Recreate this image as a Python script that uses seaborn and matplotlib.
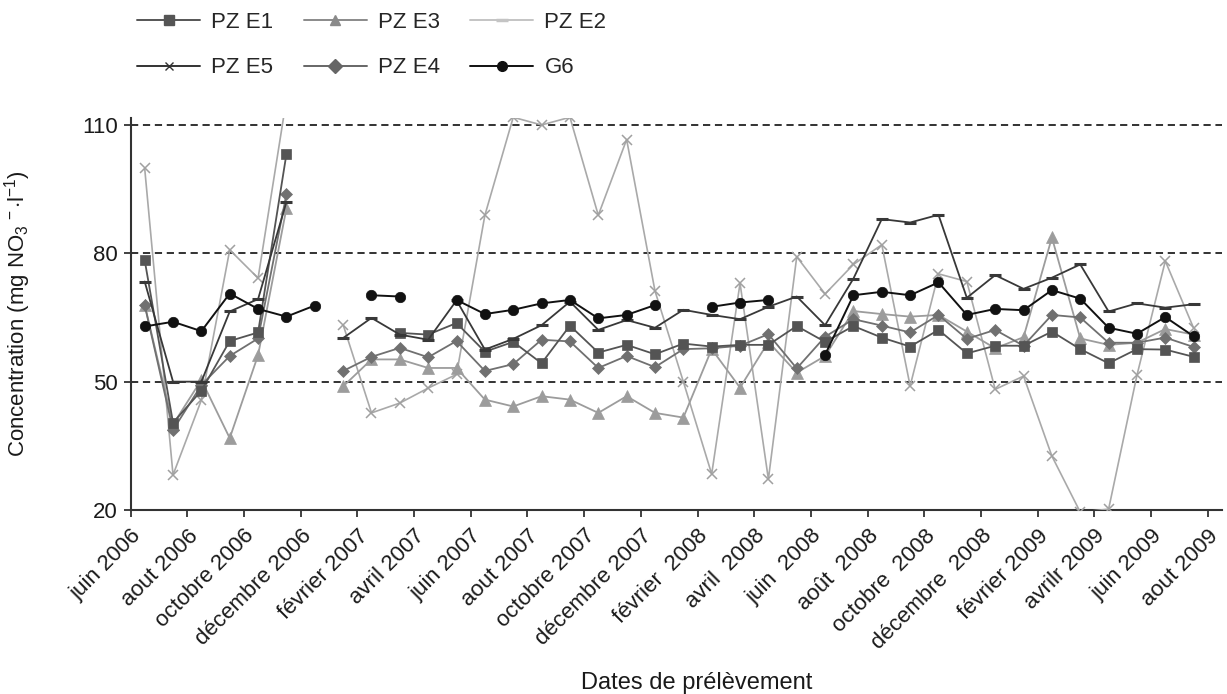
import numpy as np
import pandas as pd
import matplotlib
matplotlib.use("Agg")
import matplotlib.pyplot as plt
import seaborn as sns
from matplotlib.lines import Line2D
from matplotlib.transforms import ScaledTranslation

nan = np.nan

# monthly samples, June 2006 (0) ... July 2009 (37)
sample_index = list(range(38))

tick_labels = ["juin 2006", "aout 2006", "octobre 2006", "décembre 2006",
               "février 2007", "avril 2007", "juin 2007", "aout 2007",
               "octobre 2007", "décembre 2007", "février  2008", "avril  2008",
               "juin  2008", "août  2008", "octobre  2008", "décembre  2008",
               "février 2009", "avrilr 2009", "juin 2009", "aout 2009"]

pz_e1 = [78.4, 40.4, 47.9, 59.5, 61.5, 103.2, nan, nan, nan, 61.4, 61.0, 63.7,
         57.0, 59.3, 54.3, 63.1, 56.8, 58.6, 56.4, 58.9, 58.2, 58.6, 58.6, 63.0,
         59.3, 63.0, 60.3, 58.2, 62.1, 56.6, 58.4, 58.4, 61.7, 57.6, 54.3, 57.6,
         57.5, 55.8]
pz_e3 = [68.0, 40.0, 50.4, 36.8, 56.2, 90.5, nan, 48.9, 55.2, 55.2, 53.2, 53.2,
         45.8, 44.2, 46.6, 45.8, 42.7, 46.6, 42.7, 41.6, 57.6, 48.6, 59.3, 52.1,
         56.0, 66.5, 65.8, 65.2, 65.6, 61.7, 57.8, 60.4, 83.7, 60.1, 58.6, 59.1,
         62.3, 61.0]
pz_e2 = [73.4, 50.0, 50.0, 66.4, 69.3, 92.0, nan, 60.2, 64.9, 61.0, 59.8, 69.0,
         57.5, 60.0, 63.2, 68.7, 62.1, 64.4, 62.6, 66.8, 65.6, 64.6, 67.5, 69.9,
         63.2, 74.1, 88.0, 87.2, 89.0, 69.6, 74.9, 71.7, 74.3, 77.4, 66.4, 68.3,
         67.3, 68.1]
pz_e5 = [99.9, 28.2, 45.7, 80.8, 74.2, 116.0, nan, 63.3, 42.7, 45.0, 48.5, 51.7,
         88.9, 111.8, 110.0, 111.8, 88.9, 106.6, 71.2, 50.0, 28.4, 73.0, 27.2, 79.2,
         70.5, 77.4, 82.0, 49.0, 75.2, 73.4, 48.2, 51.3, 32.6, 19.5, 20.2, 51.5,
         78.2, 62.5]
pz_e4 = [67.9, 38.7, 49.2, 56.0, 60.1, 93.8, nan, 52.5, 55.8, 57.9, 55.7, 59.5,
         52.5, 54.1, 59.8, 59.4, 53.2, 56.0, 53.4, 57.6, 57.8, 58.4, 61.1, 53.1,
         60.5, 64.6, 63.1, 61.5, 65.6, 60.0, 62.1, 58.4, 65.6, 65.0, 59.1, 59.1,
         60.3, 58.1]
g6 = [62.9, 64.0, 61.8, 70.6, 67.0, 65.2, 67.8, nan, 70.2, 69.9, nan, 69.1,
      65.8, 66.8, 68.3, 69.1, 64.8, 65.6, 67.9, nan, 67.5, 68.5, 69.1, nan,
      56.3, 70.2, 71.0, 70.2, 73.2, 65.6, 67.0, 66.7, 71.4, 69.4, 62.6, 61.2,
      65.1, 60.6]

sns.set_theme(style="ticks")
plt.rcParams["font.family"] = ["Liberation Sans", "DejaVu Sans"]
plt.rcParams["mathtext.fontset"] = "custom"
plt.rcParams["mathtext.rm"] = "Liberation Sans"
plt.rcParams["mathtext.it"] = "Liberation Sans:italic"
plt.rcParams["mathtext.bf"] = "Liberation Sans:bold"

FS = 16
W, H = 1227, 694
fig = plt.figure(figsize=(W / 100, H / 100), dpi=100)
x0, x1 = 130.5, 1222.0
y_bot, y_top = 510.0, 117.7
ax = fig.add_axes([x0 / W, (H - y_bot) / H, (x1 - x0) / W, (y_bot - y_top) / H])

series = [
    ("PZ E5", pz_e5, dict(color="#a9a9a9", marker="x", markersize=7, mec="#a0a0a0", mew=1.1, lw=1.2)),
    ("PZ E3", pz_e3, dict(color="#9c9c9c", marker="^", markersize=8, mec="#9c9c9c", mew=0.5, lw=1.3)),
    ("PZ E4", pz_e4, dict(color="#707070", marker="D", markersize=6.5, mec="#707070", mew=0.5, lw=1.3)),
    ("PZ E1", pz_e1, dict(color="#545454", marker="s", markersize=7.5, mec="#545454", mew=0.5, lw=1.3)),
    ("PZ E2", pz_e2, dict(color="#383838", marker="_", markersize=9, mec="#383838", mew=2.2, lw=1.3)),
    ("G6", g6, dict(color="#111111", marker="o", markersize=7.5, mec="#111111", mew=0.5, lw=1.4)),
]

for z, (name, vals, st) in enumerate(series):
    df = pd.DataFrame({"x": sample_index, "y": vals})
    df["seg"] = df["y"].isna().cumsum()
    df = df.dropna()
    sns.lineplot(data=df, x="x", y="y", units="seg", estimator=None, ax=ax,
                 color=st["color"], marker=st["marker"], markersize=st["markersize"],
                 markeredgecolor=st["mec"], markeredgewidth=st["mew"],
                 linewidth=st["lw"], legend=False, zorder=3 + z)

ax.set_xlim(-0.5, 38.0)
ax.set_ylim(20, 111.7)
ax.set_yticks([20, 50, 80, 110])
ax.set_xticks(np.arange(-0.5, 38, 2))
ax.set_xticklabels(tick_labels, rotation=45, ha="right", va="top",
                   rotation_mode="anchor")
offset = ScaledTranslation(0.09, 0, fig.dpi_scale_trans)
for lab in ax.get_xticklabels():
    lab.set_transform(lab.get_transform() + offset)

ax.grid(axis="y", color="#222222", linestyle=(0, (4, 2.6)), linewidth=1.3)
ax.set_axisbelow(True)
sns.despine(ax=ax)
for s in ("left", "bottom"):
    ax.spines[s].set_color("#333333")
    ax.spines[s].set_linewidth(1.5)
ax.tick_params(axis="both", direction="out", length=5, width=1.3, color="#333333",
               labelsize=FS, labelcolor="#1a1a1a")
ax.tick_params(axis="y", pad=4)
ax.tick_params(axis="x", pad=6)

ax.set_xlabel("Dates de prélèvement", fontsize=17, color="#1a1a1a")
ax.xaxis.set_label_coords((697 - x0) / (x1 - x0), (y_bot - 683) / (y_bot - y_top))
ax.xaxis.label.set_va("center")
ax.set_ylabel(r"Concentration (mg NO$_3$$^{\,-}$$\cdot$l$^{-1}$)", fontsize=FS,
              color="#1a1a1a")
ax.yaxis.set_label_coords((18 - x0) / (x1 - x0), 0.5)
ax.yaxis.label.set_va("center")

# legend drawn as in the reference
leg_items = [
    ("PZ E1", dict(color="#555555", marker="s", markersize=7, mec="#555555")),
    ("PZ E5", dict(color="#333333", marker="x", markersize=6, mec="#333333")),
    ("PZ E3", dict(color="#8a8a8a", marker="^", markersize=7.5, mec="#8a8a8a")),
    ("PZ E4", dict(color="#666666", marker="D", markersize=7, mec="#666666")),
    ("PZ E2", dict(color="#c4c4c4", marker="_", markersize=9, mec="#c4c4c4", mew=2.5)),
    ("G6", dict(color="#111111", marker="o", markersize=7, mec="#111111")),
]
handles = [Line2D([0], [0], lw=1.4, **st) for _, st in leg_items]
labels = [n for n, _ in leg_items]
fig.legend(handles, labels, ncol=3, loc="upper left",
           bbox_to_anchor=(137 / W, 1 - 12 / H), frameon=False, borderpad=0,
           borderaxespad=0, handlelength=2.85, handletextpad=0.5,
           columnspacing=1.35, labelspacing=1.1, fontsize=FS)

fig.savefig("out.png", dpi=100)
